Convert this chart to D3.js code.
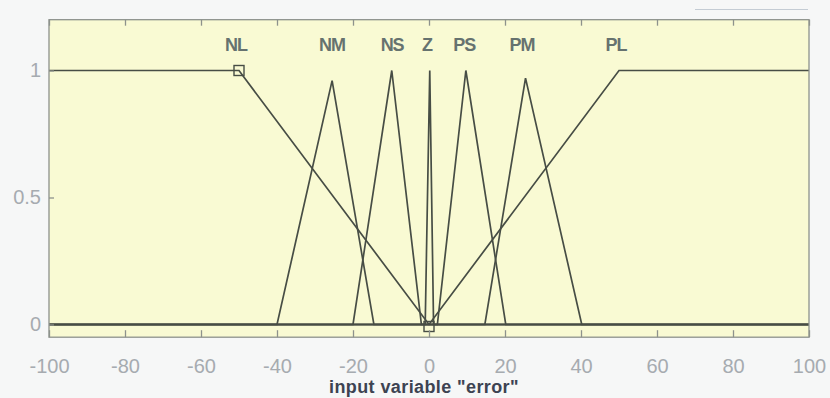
<!DOCTYPE html>
<html>
<head>
<meta charset="utf-8">
<script src="https://cdn.jsdelivr.net/npm/d3@7"></script>
<style>
  html, body { margin: 0; padding: 0; background: #f6f7f7; }
  svg { display: block; }
</style>
</head>
<body>
<svg id="chart" width="830" height="398"></svg>
<script>
// ---- data ----
const xTicks = [-100, -80, -60, -40, -20, 0, 20, 40, 60, 80, 100];
const yTicks = [0, 0.5, 1];
const yTickLabels = ["0", "0.5", "1"];
const mfNames = ["NL", "NM", "NS", "Z", "PS", "PM", "PL"];
const mfLabelX = [-50.8, -25.5, -9.7, -0.5, 9.3, 24.5, 49.2];
const nlX = [-100, -50, 0, 100];        const nlY = [1, 1, 0, 0];
const nmX = [-100, -40, -25.5, -14.5, 100]; const nmY = [0, 0, 0.96, 0, 0];
const nsX = [-100, -20, -9.8, -2, 100];  const nsY = [0, 0, 1, 0, 0];
const zX  = [-100, -1, 0.2, 1.2, 100];   const zY  = [0, 0, 1, 0, 0];
const psX = [-100, 2.2, 9.7, 20.2, 100]; const psY = [0, 0, 1, 0, 0];
const pmX = [-100, 14.7, 25.4, 40.2, 100]; const pmY = [0, 0, 0.97, 0, 0];
const plX = [-100, 0, 50, 100];          const plY = [0, 0, 1, 1];
const markerX = [-50, 0];
const markerY = [1, 0];
const xTitle = 'input variable "error"';

const mfXs = [nlX, nmX, nsX, zX, psX, pmX, plX];
const mfYs = [nlY, nmY, nsY, zY, psY, pmY, plY];

// ---- drawing ----
const svg = d3.select("#chart");
const x = d3.scaleLinear().domain([-100, 100]).range([49, 809]);
const y = d3.scaleLinear().domain([0, 1]).range([324.5, 70.5]);
const yTop = y(1.2), yBot = y(-0.05);

// faint artifact line top right
svg.append("line").attr("x1", 695).attr("x2", 808).attr("y1", 9.5).attr("y2", 9.5)
  .attr("stroke", "#c4ccd4").attr("stroke-width", 1);

// plot background
svg.append("rect").attr("x", x(-100)).attr("y", yTop)
  .attr("width", x(100) - x(-100)).attr("height", yBot - yTop)
  .attr("fill", "#f9fad3");

const lineGen = d3.line().x(d => x(d[0])).y(d => y(d[1]));
const g = svg.append("g");
mfXs.forEach((xs, i) => {
  const pts = xs.map((v, j) => [v, mfYs[i][j]]);
  g.append("path").attr("d", lineGen(pts))
    .attr("fill", "none").attr("stroke", "#474d45").attr("stroke-width", 1.7)
    .attr("stroke-linejoin", "miter");
});

// markers
markerX.forEach((mx, i) => {
  svg.append("rect").attr("x", x(mx) - 5).attr("y", y(markerY[i]) - 5 + (i === 1 ? 2 : 0))
    .attr("width", 10).attr("height", 10)
    .attr("fill", "none").attr("stroke", "#474d45").attr("stroke-width", 1.4);
});

// frame
svg.append("rect").attr("x", x(-100)).attr("y", yTop)
  .attr("width", x(100) - x(-100)).attr("height", yBot - yTop)
  .attr("fill", "none").attr("stroke", "#8d928c").attr("stroke-width", 1.3);

// x ticks (bottom and top, inward)
const axB = d3.axisBottom(x).tickValues(xTicks).tickSizeInner(-7).tickSizeOuter(0).tickFormat(d => d);
const gxB = svg.append("g").attr("transform", `translate(0,${yBot})`).call(axB);
gxB.select(".domain").remove();
gxB.selectAll("line").attr("stroke", "#8d928c").attr("stroke-width", 1.3);
gxB.selectAll("text").attr("y", 22).attr("dy", "0.71em")
  .attr("font-family", "Liberation Sans, Arial, sans-serif").attr("font-size", 20)
  .attr("fill", "#a6abb0");

const axT = d3.axisTop(x).tickValues(xTicks).tickSizeInner(-6).tickSizeOuter(0).tickFormat("");
const gxT = svg.append("g").attr("transform", `translate(0,${yTop})`).call(axT);
gxT.select(".domain").remove();
gxT.selectAll("line").attr("stroke", "#8d928c").attr("stroke-width", 1.3);

// y ticks
const axL = d3.axisLeft(y).tickValues(yTicks).tickSizeInner(-5).tickSizeOuter(0)
  .tickFormat((d, i) => yTickLabels[i]);
const gyL = svg.append("g").attr("transform", `translate(${x(-100)},0)`).call(axL);
gyL.select(".domain").remove();
gyL.selectAll("line").attr("stroke", "#8d928c").attr("stroke-width", 1.3);
gyL.selectAll("text").attr("x", -8)
  .attr("font-family", "Liberation Sans, Arial, sans-serif").attr("font-size", 20)
  .attr("fill", "#a6abb0");

// MF labels
svg.append("g").selectAll("text").data(mfNames).join("text")
  .attr("x", (d, i) => x(mfLabelX[i])).attr("y", 51)
  .attr("text-anchor", "middle")
  .attr("font-family", "Liberation Sans, Arial, sans-serif").attr("font-weight", "bold")
  .attr("font-size", 18).attr("letter-spacing", -1)
  .attr("fill", "#66726f").text(d => d);

// axis title
svg.append("text").attr("x", 424).attr("y", 393).attr("text-anchor", "middle")
  .attr("font-family", "Liberation Sans, Arial, sans-serif").attr("font-weight", "bold")
  .attr("font-size", 18).attr("letter-spacing", 0.4).attr("fill", "#3d4352").text(xTitle);
</script>
</body>
</html>
